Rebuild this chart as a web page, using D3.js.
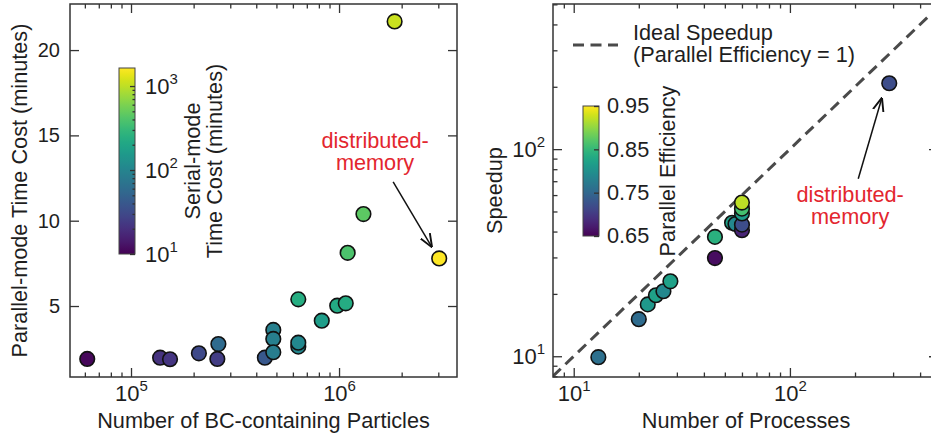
<!DOCTYPE html>
<html>
<head>
<meta charset="utf-8">
<script src="https://cdn.jsdelivr.net/npm/d3@7"></script>
<style>
  body { margin: 0; background: #fff; }
  svg text { font-family: "Liberation Sans", Arial, sans-serif; fill: #1e1e1e; }
</style>
</head>
<body>
<svg id="chart" width="931" height="437"></svg>
<script>
// ---- left panel data: particles vs parallel-mode time, coloured by serial time
const particles   = [61600, 138000, 154000, 212000, 263000, 260000, 440000, 483000, 483000, 483000,
                     637000, 637000, 637000, 826000, 980000, 1077000, 1100000, 1310000, 1850000, 3030000];
const parallelMin = [1.9, 1.97, 1.88, 2.23, 2.77, 1.9, 1.97, 3.6, 3.07, 2.29,
                     2.62, 2.85, 5.39, 4.14, 5.02, 5.16, 8.12, 10.39, 21.68, 7.79];
const serialMin   = [11, 21, 22, 31, 58, 25, 40, 90, 88, 85,
                     105, 108, 235, 166, 215, 225, 390, 455, 1100, 1620];

// ---- right panel data: processes vs speedup, coloured by parallel efficiency
const processes  = [13, 20, 22, 24, 26, 28, 45, 45, 54, 56, 60, 60, 60, 60, 60, 288];
const speedups   = [9.9, 15.1, 17.8, 19.7, 20.6, 23.0, 37.7, 29.8, 44.1, 43.5, 40.6, 43.2, 48.9, 51.6, 55.2, 208];
const efficiency = [0.76, 0.755, 0.81, 0.82, 0.79, 0.82, 0.84, 0.66, 0.82, 0.79, 0.68, 0.72, 0.815, 0.86, 0.92, 0.72];

// ticks / labels
const leftXMajor = [1e5, 1e6];
const leftYTicks = [5, 10, 15, 20];
const rightMajor = [10, 100];
const serialBarTicks = [10, 100, 1000];
const effBarTicks = [0.65, 0.75, 0.85, 0.95];
const idealRange = [8, 500];

const svg = d3.select('#chart');
const red = '#e3262e';
const frameColor = '#333';
const labelSize = 21.7;

function minorLog(lo, hi) {
  const out = [];
  for (let e = Math.floor(Math.log10(lo)); e <= Math.ceil(Math.log10(hi)); e++) {
    for (let m = 2; m <= 9; m++) {
      const v = m * Math.pow(10, e);
      if (v >= lo && v <= hi) out.push(v);
    }
  }
  return out;
}

// "10" with a superscript exponent
function sup(sel) {
  sel.each(function (d) {
    const t = d3.select(this);
    t.text(null).attr('font-size', 22);
    t.append('tspan').text('10');
    t.append('tspan').attr('font-size', 15).attr('dy', '-0.65em').text(Math.round(Math.log10(d)));
  });
}

function drawAxis(g, axis, transform) {
  const a = g.append('g').attr('transform', transform).call(axis);
  a.select('.domain').remove();
  a.selectAll('line').attr('stroke', frameColor).attr('stroke-width', 1.3);
  a.selectAll('text').attr('font-size', 20).attr('fill', '#1e1e1e')
    .attr('font-family', '"Liberation Sans", Arial, sans-serif');
  return a;
}

const defs = svg.append('defs');
defs.append('marker').attr('id', 'head')
  .attr('viewBox', '0 0 10 10').attr('refX', 9.5).attr('refY', 5)
  .attr('markerWidth', 9).attr('markerHeight', 9).attr('orient', 'auto')
  .append('path').attr('d', 'M0,1 L10,5 L0,9').attr('fill', 'none')
  .attr('stroke', '#111').attr('stroke-width', 1.4);

function gradient(id, scale, lo, hi, isLog) {
  const gr = defs.append('linearGradient').attr('id', id)
    .attr('x1', 0).attr('y1', 1).attr('x2', 0).attr('y2', 0);
  const n = 30;
  for (let i = 0; i <= n; i++) {
    const v = isLog ? Math.pow(10, Math.log10(lo) + (Math.log10(hi) - Math.log10(lo)) * i / n)
                    : lo + (hi - lo) * i / n;
    gr.append('stop').attr('offset', i / n).attr('stop-color', scale(v));
  }
}

// ================= LEFT PANEL =================
const L = { x0: 70, x1: 457, y0: 4, y1: 377 };
const xL = d3.scaleLog().domain([50900, 3.69e6]).range([L.x0, L.x1]);
const yL = d3.scaleLinear().domain([0.84, 22.7]).range([L.y1, L.y0]);
const cL = d3.scaleSequentialLog(d3.interpolateViridis).domain([10, 1640]);

const gL = svg.append('g');
const minorXL = minorLog(xL.domain()[0], xL.domain()[1]);

drawAxis(gL, d3.axisBottom(xL).tickValues(leftXMajor).tickSize(-9).tickPadding(8), `translate(0,${L.y1})`)
  .selectAll('text').call(sup);
drawAxis(gL, d3.axisBottom(xL).tickValues(minorXL).tickSize(-4.5).tickFormat(''), `translate(0,${L.y1})`);
drawAxis(gL, d3.axisTop(xL).tickValues(leftXMajor).tickSize(-9).tickFormat(''), `translate(0,${L.y0})`);
drawAxis(gL, d3.axisTop(xL).tickValues(minorXL).tickSize(-4.5).tickFormat(''), `translate(0,${L.y0})`);
drawAxis(gL, d3.axisLeft(yL).tickValues(leftYTicks).tickSize(-9).tickPadding(10), `translate(${L.x0},0)`);
drawAxis(gL, d3.axisRight(yL).tickValues(leftYTicks).tickSize(-9).tickFormat(''), `translate(${L.x1},0)`);

gL.append('rect').attr('x', L.x0).attr('y', L.y0).attr('width', L.x1 - L.x0).attr('height', L.y1 - L.y0)
  .attr('fill', 'none').attr('stroke', frameColor).attr('stroke-width', 1.5);

gL.append('g').selectAll('circle')
  .data(particles.map((p, i) => ({ x: p, y: parallelMin[i], c: serialMin[i] })))
  .join('circle')
  .attr('cx', d => xL(d.x)).attr('cy', d => yL(d.y)).attr('r', 7.3)
  .attr('fill', d => cL(d.c)).attr('stroke', '#111').attr('stroke-width', 1.6);

// colorbar (serial time)
const cbL = { x: 119, w: 16, y0: 68, y1: 254 };
gradient('gradL', cL, 10, 1640, true);
const cbScaleL = d3.scaleLog().domain([10, 1640]).range([cbL.y1, cbL.y0]);
gL.append('rect').attr('x', cbL.x).attr('y', cbL.y0).attr('width', cbL.w).attr('height', cbL.y1 - cbL.y0)
  .attr('fill', 'url(#gradL)').attr('stroke', '#444').attr('stroke-width', 1);
drawAxis(gL, d3.axisRight(cbScaleL).tickValues(serialBarTicks).tickSize(-5).tickPadding(10),
  `translate(${cbL.x + cbL.w},0)`).selectAll('text').call(sup);
drawAxis(gL, d3.axisRight(cbScaleL).tickValues(minorLog(10, 1640)).tickSize(-2.5).tickFormat(''),
  `translate(${cbL.x + cbL.w},0)`);

gL.append('text').attr('transform', 'translate(192,161) rotate(-90)')
  .attr('text-anchor', 'middle').attr('dy', '0.35em').attr('font-size', labelSize).text('Serial-mode');
gL.append('text').attr('transform', 'translate(214,161) rotate(-90)')
  .attr('text-anchor', 'middle').attr('dy', '0.35em').attr('font-size', labelSize).text('Time Cost (minutes)');

gL.append('text').attr('transform', `translate(19,${(L.y0 + L.y1) / 2}) rotate(-90)`)
  .attr('text-anchor', 'middle').attr('dy', '0.35em').attr('font-size', labelSize)
  .text('Parallel-mode Time Cost (minutes)');
gL.append('text').attr('x', (L.x0 + L.x1) / 2).attr('y', 428)
  .attr('text-anchor', 'middle').attr('font-size', labelSize).text('Number of BC-containing Particles');

// annotation
const annL = { tx: 1.49e6, ty: 14.26, ax0: 1.82e6, ay0: 12.28, ax1: 2.79e6, ay1: 8.47 };
const tL = gL.append('text').attr('x', xL(annL.tx)).attr('y', yL(annL.ty))
  .attr('text-anchor', 'middle').attr('font-size', labelSize).style('fill', red);
tL.append('tspan').attr('x', xL(annL.tx)).text('distributed-');
tL.append('tspan').attr('x', xL(annL.tx)).attr('dy', 22).text('memory');
gL.append('line').attr('x1', xL(annL.ax0)).attr('y1', yL(annL.ay0))
  .attr('x2', xL(annL.ax1)).attr('y2', yL(annL.ay1))
  .attr('stroke', '#111').attr('stroke-width', 1.5).attr('marker-end', 'url(#head)');

// ================= RIGHT PANEL =================
const R = { x0: 553, x1: 938, y0: 4, y1: 377 };
const xR = d3.scaleLog().domain([8.02, 484]).range([R.x0, R.x1]);
const yR = d3.scaleLog().domain([7.94, 502]).range([R.y1, R.y0]);
const cR = d3.scaleSequential(d3.interpolateViridis).domain([0.65, 0.95]);

const gR = svg.append('g');
const minorXR = minorLog(xR.domain()[0], xR.domain()[1]);
const minorYR = minorLog(yR.domain()[0], yR.domain()[1]);

drawAxis(gR, d3.axisBottom(xR).tickValues(rightMajor).tickSize(-9).tickPadding(8), `translate(0,${R.y1})`)
  .selectAll('text').call(sup);
drawAxis(gR, d3.axisBottom(xR).tickValues(minorXR).tickSize(-4.5).tickFormat(''), `translate(0,${R.y1})`);
drawAxis(gR, d3.axisTop(xR).tickValues(rightMajor).tickSize(-9).tickFormat(''), `translate(0,${R.y0})`);
drawAxis(gR, d3.axisTop(xR).tickValues(minorXR).tickSize(-4.5).tickFormat(''), `translate(0,${R.y0})`);
drawAxis(gR, d3.axisLeft(yR).tickValues(rightMajor).tickSize(-9).tickPadding(8), `translate(${R.x0},0)`)
  .selectAll('text').call(sup);
drawAxis(gR, d3.axisLeft(yR).tickValues(minorYR).tickSize(-4.5).tickFormat(''), `translate(${R.x0},0)`);
drawAxis(gR, d3.axisRight(yR).tickValues(rightMajor).tickSize(-9).tickFormat(''), `translate(${R.x1},0)`);
drawAxis(gR, d3.axisRight(yR).tickValues(minorYR).tickSize(-4.5).tickFormat(''), `translate(${R.x1},0)`);

defs.append('clipPath').attr('id', 'clipR').append('rect')
  .attr('x', R.x0).attr('y', R.y0).attr('width', R.x1 - R.x0).attr('height', R.y1 - R.y0);

gR.append('line').attr('clip-path', 'url(#clipR)')
  .attr('x1', xR(idealRange[0])).attr('y1', yR(idealRange[0]))
  .attr('x2', xR(idealRange[1])).attr('y2', yR(idealRange[1]))
  .attr('stroke', '#4a4a4a').attr('stroke-width', 3).attr('stroke-dasharray', '11,6.5');

gR.append('rect').attr('x', R.x0).attr('y', R.y0).attr('width', R.x1 - R.x0).attr('height', R.y1 - R.y0)
  .attr('fill', 'none').attr('stroke', frameColor).attr('stroke-width', 1.5);

gR.append('g').selectAll('circle')
  .data(processes.map((p, i) => ({ x: p, y: speedups[i], c: efficiency[i] })))
  .join('circle')
  .attr('cx', d => xR(d.x)).attr('cy', d => yR(d.y)).attr('r', 7.3)
  .attr('fill', d => cR(d.c)).attr('stroke', '#111').attr('stroke-width', 1.6);

// legend
gR.append('line').attr('x1', 573).attr('x2', 618).attr('y1', 45).attr('y2', 45)
  .attr('stroke', '#4a4a4a').attr('stroke-width', 3).attr('stroke-dasharray', '11,6.5');
gR.append('text').attr('x', 633).attr('y', 40).attr('font-size', labelSize).text('Ideal Speedup');
gR.append('text').attr('x', 633).attr('y', 62).attr('font-size', labelSize).text('(Parallel Efficiency = 1)');

// colorbar (efficiency)
const cbR = { x: 583, w: 16, y0: 106, y1: 236 };
gradient('gradR', cR, 0.65, 0.95, false);
const cbScaleR = d3.scaleLinear().domain([0.65, 0.95]).range([cbR.y1, cbR.y0]);
gR.append('rect').attr('x', cbR.x).attr('y', cbR.y0).attr('width', cbR.w).attr('height', cbR.y1 - cbR.y0)
  .attr('fill', 'url(#gradR)').attr('stroke', '#444').attr('stroke-width', 1);
drawAxis(gR, d3.axisRight(cbScaleR).tickValues(effBarTicks).tickSize(-5).tickPadding(8).tickFormat(d3.format('.2f')),
  `translate(${cbR.x + cbR.w},0)`).selectAll('text').attr('font-size', labelSize);

gR.append('text').attr('transform', `translate(667,${(cbR.y0 + cbR.y1) / 2}) rotate(-90)`)
  .attr('text-anchor', 'middle').attr('dy', '0.35em').attr('font-size', labelSize).text('Parallel Efficiency');

gR.append('text').attr('transform', `translate(494,${(R.y0 + R.y1) / 2}) rotate(-90)`)
  .attr('text-anchor', 'middle').attr('dy', '0.35em').attr('font-size', labelSize).text('Speedup');
gR.append('text').attr('x', 746).attr('y', 428)
  .attr('text-anchor', 'middle').attr('font-size', labelSize).text('Number of Processes');

const annR = { tx: 190, ty: 55.5, ax0: 207, ay0: 72, ax1: 266, ay1: 176 };
const tR = gR.append('text').attr('x', xR(annR.tx)).attr('y', yR(annR.ty))
  .attr('text-anchor', 'middle').attr('font-size', labelSize).style('fill', red);
tR.append('tspan').attr('x', xR(annR.tx)).text('distributed-');
tR.append('tspan').attr('x', xR(annR.tx)).attr('dy', 22).text('memory');
gR.append('line').attr('x1', xR(annR.ax0)).attr('y1', yR(annR.ay0))
  .attr('x2', xR(annR.ax1)).attr('y2', yR(annR.ay1))
  .attr('stroke', '#111').attr('stroke-width', 1.5).attr('marker-end', 'url(#head)');
</script>
</body>
</html>
